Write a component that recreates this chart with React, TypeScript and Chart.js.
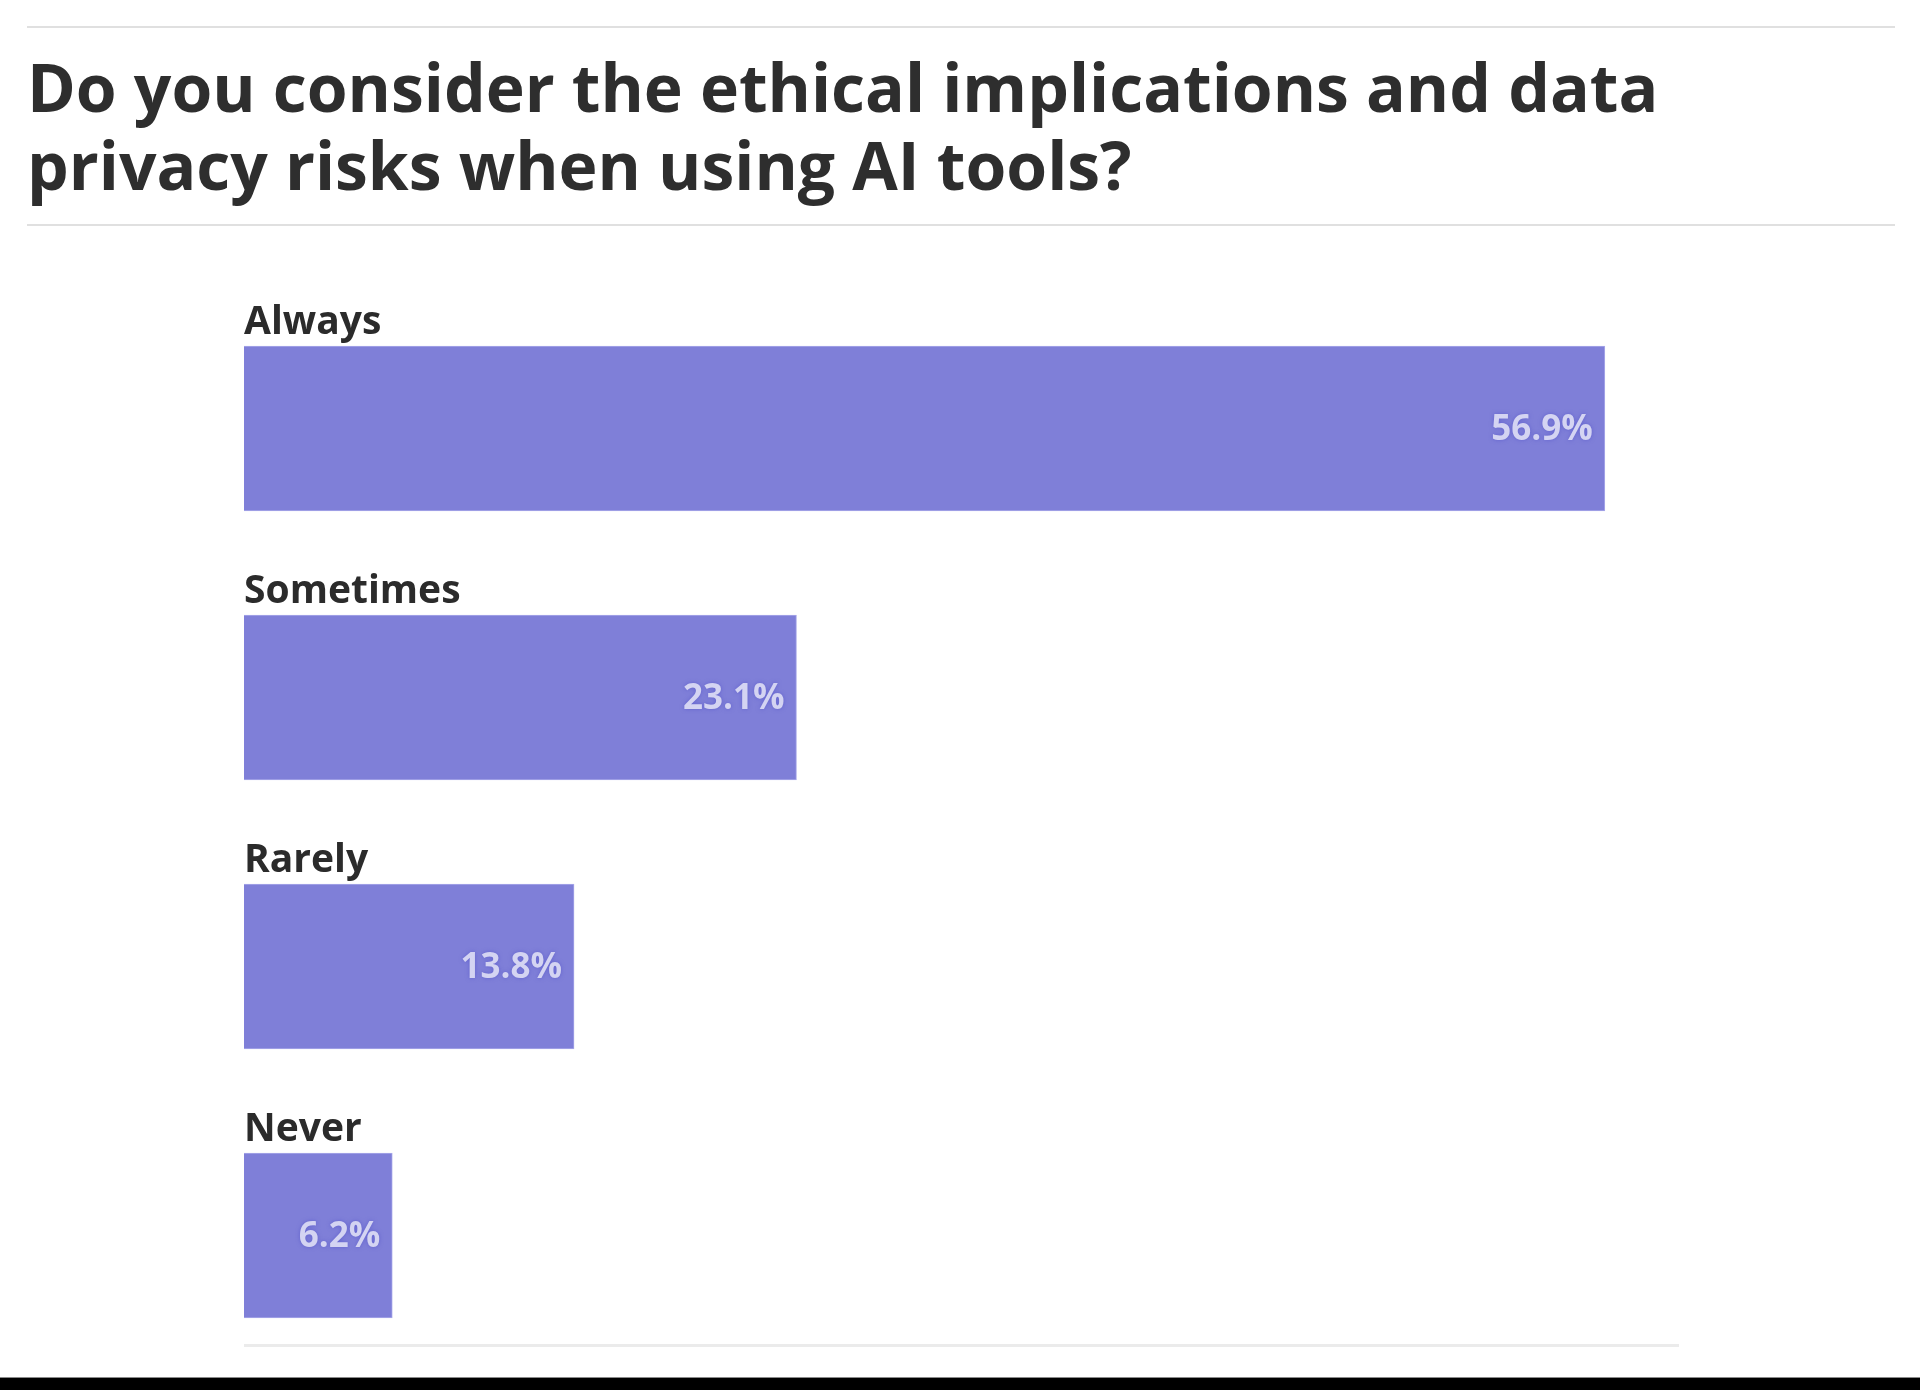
import React, { useEffect, useRef } from "react";
import { Chart, registerables } from "chart.js";

Chart.register(...registerables);

const titleLines = [
  "Do you consider the ethical implications and data",
  "privacy risks when using AI tools?",
];
const categories = ["Always", "Sometimes", "Rarely", "Never"];
const values = [56.9, 23.1, 13.8, 6.2];
const axisMin = 0;
const axisMax = 60;

const BAR_COLOR = "#7f7fd8";
const FONT = "'Open Sans', Lato, sans-serif";

const decorPlugin = {
  id: "decor",
  afterDraw(chart: any) {
    const ctx = chart.ctx as CanvasRenderingContext2D;
    const area = chart.chartArea;
    const meta = chart.getDatasetMeta(0);
    ctx.save();

    // title rules
    ctx.fillStyle = "#e0e0e0";
    ctx.fillRect(27, 26, 1868, 2);
    ctx.fillRect(27, 224, 1868, 2);

    // title
    ctx.fillStyle = "#2e2e2e";
    ctx.font = `bold 66px ${FONT}`;
    ctx.textAlign = "left";
    ctx.textBaseline = "alphabetic";
    ctx.fillText(titleLines[0], 27, 112);
    ctx.fillText(titleLines[1], 27, 190);

    // category labels and value labels
    meta.data.forEach((bar: any, i: number) => {
      const props = bar.getProps(["x", "y", "base", "height"], true);
      const top = props.y - props.height / 2;
      ctx.fillStyle = "#2b2b2b";
      ctx.font = `bold 39px ${FONT}`;
      ctx.textAlign = "left";
      ctx.textBaseline = "alphabetic";
      ctx.fillText(categories[i], props.base, top - 12);

      ctx.save();
      ctx.font = `bold 35px ${FONT}`;
      ctx.textAlign = "right";
      ctx.textBaseline = "middle";
      ctx.shadowColor = "rgba(80,80,200,0.6)";
      ctx.shadowBlur = 4;
      ctx.fillStyle = "#d4d4f2";
      ctx.fillText(values[i].toFixed(1) + "%", props.x - 12, props.y + 2);
      ctx.restore();
    });

    // bottom axis line
    ctx.fillStyle = "#ebebeb";
    ctx.fillRect(area.left, 1344, area.right - area.left, 3);

    // bottom black band
    ctx.fillStyle = "#8a8a8a";
    ctx.fillRect(0, 1377, chart.width, 1);
    ctx.fillStyle = "#000000";
    ctx.fillRect(0, 1378, chart.width, 12);

    ctx.restore();
  },
};

export default function App() {
  const canvasRef = useRef<HTMLCanvasElement | null>(null);

  useEffect(() => {
    document.body.style.margin = "0";
    const canvas = canvasRef.current;
    if (!canvas) return;
    const chart = new Chart(canvas, {
      type: "bar",
      data: {
        labels: categories,
        datasets: [
          {
            data: values,
            backgroundColor: BAR_COLOR,
            borderColor: "#a9a9ea",
            borderWidth: 1,
            barThickness: 165,
          },
        ],
      },
      options: {
        indexAxis: "y",
        responsive: false,
        animation: false,
        devicePixelRatio: 1,
        layout: { padding: { left: 244, right: 241, top: 294, bottom: 20 } },
        scales: {
          x: { min: axisMin, max: axisMax, display: false },
          y: { display: false },
        },
        plugins: {
          legend: { display: false },
          tooltip: { enabled: false },
          title: { display: false },
        },
      },
      plugins: [decorPlugin],
    });
    return () => chart.destroy();
  }, []);

  return (
    <div style={{ width: 1920, height: 1390, background: "#ffffff" }}>
      <canvas ref={canvasRef} width={1920} height={1390} style={{ display: "block" }} />
    </div>
  );
}
